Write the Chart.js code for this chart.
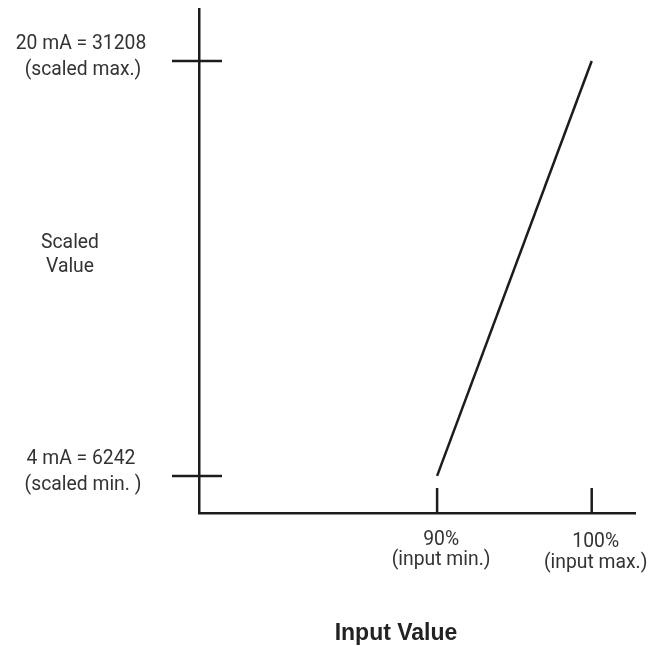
<!DOCTYPE html>
<html>
<head>
<meta charset="utf-8">
<script src="https://cdn.jsdelivr.net/npm/chart.js@4"></script>
<style>
  html, body { margin: 0; padding: 0; background: #fff; }
  #wrap { width: 651px; height: 646px; position: relative; }
</style>
</head>
<body>
<div id="wrap"><canvas id="scaleChart"></canvas></div>
<script>
// Dados do gráfico
const inputPercent = [90, 100];
const scaledValue = [6242, 31208];
const xTickLabels = [["90%", "(input min.)"], ["100%", "(input max.)"]];
const yTickLabels = [["4 mA = 6242", "(scaled min. )"], ["20 mA = 31208", "(scaled max.)"]];
const yAxisTitle = ["Scaled", "Value"];
const xAxisTitle = "Input Value";

const INK = "#1c1c1c";
const TEXT = "#333333";
const NARROW = "21px Roboto, 'DejaVu Sans', sans-serif";
const SQUEEZE = 0.92; // fonte condensada simulada

// Texto centrado e comprimido na horizontal
function narrowText(ctx, text, cx, cy) {
  ctx.save();
  ctx.translate(cx, cy);
  ctx.scale(SQUEEZE, 1);
  ctx.fillText(text, 0, 0);
  ctx.restore();
}

// Plugin para desenhar marcas e rótulos a partir das escalas
const annotatePlugin = {
  id: "annotate",
  afterDraw(chart) {
    const { ctx, chartArea, scales } = chart;
    const x = scales.x, y = scales.y;
    ctx.save();
    ctx.strokeStyle = INK;
    ctx.lineWidth = 2.5;

    // marcas do eixo y (cruzam o eixo)
    scaledValue.forEach((v) => {
      const py = y.getPixelForValue(v);
      ctx.beginPath();
      ctx.moveTo(chartArea.left - 27, py);
      ctx.lineTo(chartArea.left + 23, py);
      ctx.stroke();
    });

    // marcas do eixo x (para dentro)
    inputPercent.forEach((v) => {
      const px = x.getPixelForValue(v);
      ctx.beginPath();
      ctx.moveTo(px, chartArea.bottom - 25);
      ctx.lineTo(px, chartArea.bottom);
      ctx.stroke();
    });

    ctx.fillStyle = TEXT;
    ctx.textAlign = "center";
    ctx.textBaseline = "middle";
    ctx.font = NARROW;

    scaledValue.forEach((v, i) => {
      const py = y.getPixelForValue(v);
      narrowText(ctx, yTickLabels[i][0], chartArea.left - 118, py - 17);
      narrowText(ctx, yTickLabels[i][1], chartArea.left - 116, py + 9);
    });

    inputPercent.forEach((v, i) => {
      const px = x.getPixelForValue(v);
      const drop = i * 3;
      narrowText(ctx, xTickLabels[i][0], px + 4, chartArea.bottom + 27 + drop / 2);
      narrowText(ctx, xTickLabels[i][1], px + 4, chartArea.bottom + 47 + drop);
    });

    // título do eixo y (horizontal)
    narrowText(ctx, yAxisTitle[0], 70, 243);
    narrowText(ctx, yAxisTitle[1], 70, 267);

    // título do eixo x
    ctx.font = "bold 23px 'Liberation Sans', Arial, sans-serif";
    ctx.fillStyle = "#222";
    ctx.fillText(xAxisTitle, 396, 634);
    ctx.restore();
  }
};

const ctx = document.getElementById("scaleChart").getContext("2d");
new Chart(ctx, {
  type: "line",
  data: {
    datasets: [
      {
        data: inputPercent.map((v, i) => ({ x: v, y: scaledValue[i] })),
        borderColor: INK,
        borderWidth: 2.5,
        pointRadius: 0,
        tension: 0,
        fill: false,
      },
    ],
  },
  options: {
    responsive: true,
    maintainAspectRatio: false,
    animation: false,
    layout: { padding: { left: 199, right: 16, top: 9, bottom: 133 } },
    scales: {
      x: {
        type: "linear",
        min: 74.6,
        max: 102.8,
        ticks: { display: false },
        grid: { display: false },
        border: { display: true, color: INK, width: 2.5 },
        afterFit: (s) => { s.height = 0; },
      },
      y: {
        type: "linear",
        min: 4010,
        max: 34340,
        ticks: { display: false },
        grid: { display: false },
        border: { display: true, color: INK, width: 2.5 },
        afterFit: (s) => { s.width = 0; },
      },
    },
    plugins: {
      legend: { display: false },
      tooltip: { enabled: false },
    },
  },
  plugins: [annotatePlugin],
});
</script>
</body>
</html>
